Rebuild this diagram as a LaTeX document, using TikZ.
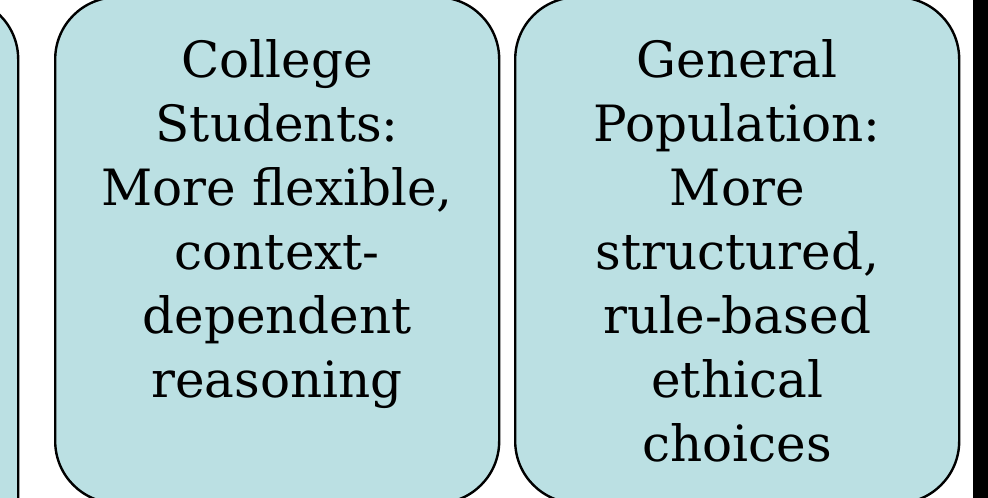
\documentclass[tikz,border=0pt]{standalone}
\usepackage{fontspec}
\setmainfont{DejaVu Serif}
\definecolor{boxfill}{RGB}{187,224,227}
\begin{document}
\begin{tikzpicture}[x=1pt,y=-1pt,
  card/.style={draw=black, line width=2.4pt, fill=boxfill, rounded corners=62pt,
    minimum width=444pt, minimum height=506pt, inner sep=0pt, anchor=north west},
  cardtext/.style={font=\fontsize{50}{64}\selectfont, align=center, anchor=north, inner sep=0pt}]
\useasboundingbox (0,0) rectangle (988,498);
\clip (0,0) rectangle (988,498);
\node[card, minimum height=640pt] (prev) at (-427,-4) {};
\node[card] (college) at (54,-4) {};
\node[card] (general) at (514,-4) {};
\node[fill=black, minimum width=15pt, minimum height=520pt, inner sep=0pt, anchor=north west] (edge) at (973,-10) {};
\node[cardtext] (ctext) at ([yshift=-43pt]college.north) {College\\Students:\\More flexible,\\context-\\dependent\\reasoning};
\node[cardtext] (gtext) at ([yshift=-43pt]general.north) {General\\Population:\\More\\structured,\\rule-based\\ethical\\choices};
\end{tikzpicture}
\end{document}
